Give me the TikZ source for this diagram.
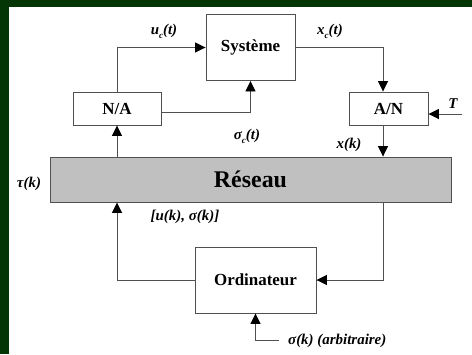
\documentclass[tikz,border=0pt]{standalone}
\usepackage{fontspec}
\setmainfont{Liberation Serif}
\usetikzlibrary{arrows.meta}
\definecolor{framegreen}{HTML}{043504}
\definecolor{wireg}{HTML}{505050}
\definecolor{netgray}{HTML}{C0C0C0}
\newcommand{\lowsub}[1]{\raisebox{-0.55ex}{\fontsize{9}{10}\selectfont #1}}
\tikzset{
  blkbox/.style={rectangle, draw=wireg, line width=0.9bp, fill=white,
                 inner sep=0pt, font=\fontsize{17}{19}\selectfont\bfseries},
  netbar/.style={blkbox, fill=netgray, font=\fontsize{24}{26}\selectfont\bfseries},
  sigline/.style={draw=wireg, line width=0.9bp},
  sigarrow/.style={sigline, -{Triangle[length=10.5bp,width=10bp,color=black]}},
  siglabel/.style={inner sep=0pt, font=\fontsize{15}{17}\selectfont\bfseries\itshape}
}

\begin{document}
\begin{tikzpicture}[x=1bp, y=-1bp]
  \useasboundingbox (0,0) rectangle (472,354);
  \fill[framegreen] (0,0) rectangle (472,354);
  \fill[white] (9,7) rectangle (472,354);
  % blocks
  \node[blkbox, minimum width=89bp, minimum height=66bp] (sys) at (250.5,47.5) {Système};
  \node[blkbox, minimum width=88bp, minimum height=33bp] (na) at (117,108.5) {N/A};
  \node[blkbox, minimum width=79bp, minimum height=33bp] (an) at (388.5,108.5) {A/N};
  \node[netbar, minimum width=401bp, minimum height=45bp] (res) at (250.5,179.5) {Réseau};
  \node[blkbox, minimum width=121bp, minimum height=66bp] (ord) at (255.5,280) {Ordinateur};
  \coordinate (acol) at (383,0);
  \coordinate (tsrc) at (462,114);
  \coordinate (sgsrc) at (279,340);
  % connectors
  \draw[sigarrow] (na.north) |- (sys.west);
  \draw[sigarrow] (na.east |- 0,112) -| (sys.south);
  \draw[sigarrow] (sys.east) -| (an.north -| acol);
  \draw[sigarrow] (tsrc) -- (an.east |- tsrc);
  \draw[sigarrow] (res.north -| na) -- (na.south);
  \draw[sigarrow] (an.south -| acol) -- (res.north -| acol);
  \draw[sigarrow] (ord.west) -| (res.south -| na);
  \draw[sigarrow] (res.south -| acol) |- (ord.east);
  \draw[sigarrow] (sgsrc) -| (ord.south);
  % labels
  \node[siglabel] (luc) at (164,31) {u\lowsub{c}(t)};
  \node[siglabel] (lxc) at (330,31) {x\lowsub{c}(t)};
  \node[siglabel] (lT) at (453,104) {T};
  \node[siglabel] (lsc) at (247,136) {σ\lowsub{c}(t)};
  \node[siglabel] (lxk) at (349,145) {x(k)};
  \node[siglabel] (ltau) at (29,184) {τ(k)};
  \node[siglabel] (luk) at (185,217) {[u(k), σ(k)]};
  \node[siglabel, anchor=west] (lsk) at (288,341) {σ(k) (arbitraire)};
\end{tikzpicture}
\end{document}
